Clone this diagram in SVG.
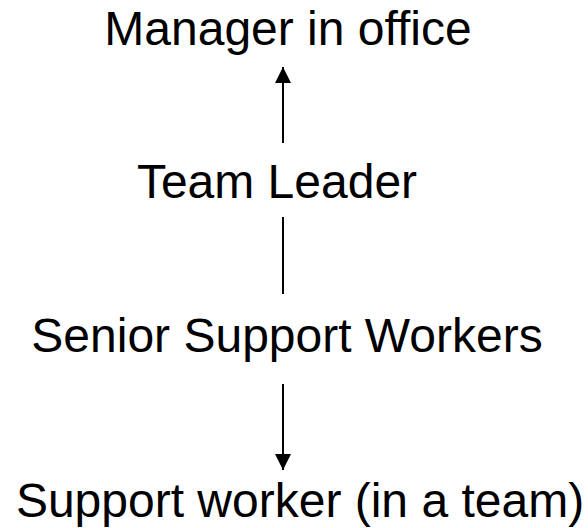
<svg xmlns="http://www.w3.org/2000/svg" width="588" height="528" viewBox="0 0 588 528">
  <style>
    .label { font-family: "Liberation Sans", Arial, sans-serif; font-size: 48px; fill: #000; text-anchor: middle; }
    .edge { stroke: #000; stroke-width: 2; fill: none; }
  </style>
  <defs>
    <marker id="arrow" viewBox="0 0 10 10" refX="10" refY="5" markerUnits="userSpaceOnUse" markerWidth="16" markerHeight="16" orient="auto">
      <path d="M0,0 L10,5 L0,10 Z" fill="#000"/>
    </marker>
  </defs>
  <rect width="588" height="528" fill="#fff"/>
  <g id="connectors">
    <line class="edge" x1="283" y1="143" x2="283" y2="67" marker-end="url(#arrow)"/>
    <line class="edge" x1="283" y1="217" x2="283" y2="294"/>
    <line class="edge" x1="283" y1="384" x2="283" y2="470" marker-end="url(#arrow)"/>
  </g>
  <g id="manager"><text class="label" x="288" y="45">Manager in office</text></g>
  <g id="team-leader"><text class="label" x="277" y="198">Team Leader</text></g>
  <g id="senior-support"><text class="label" x="287" y="352">Senior Support Workers</text></g>
  <g id="support-worker"><text class="label" x="300" y="517">Support worker (in a team)</text></g>
</svg>
